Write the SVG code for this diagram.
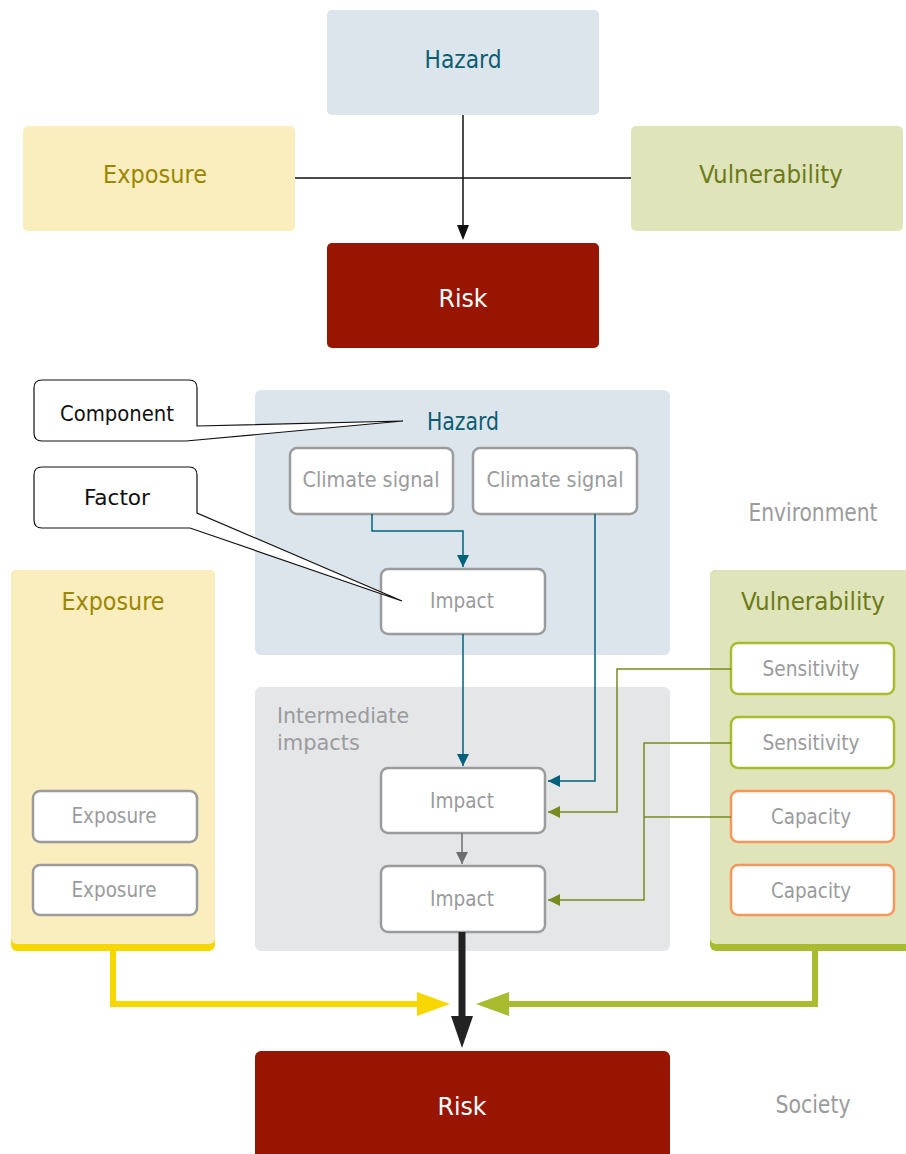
<svg xmlns="http://www.w3.org/2000/svg" width="906" height="1154" viewBox="0 0 906 1154">
  <defs>
    <style>
      text { font-family: "DejaVu Sans Condensed", "DejaVu Sans", "Liberation Sans", sans-serif; font-stretch: condensed; }
      .big { font-size: 25px; }
      .two { font-size: 22px; }
      .small { font-size: 21px; }
      .mid { text-anchor: middle; }
      .haz { fill: #0b5d72; }
      .exp { fill: #9a8700; }
      .vul { fill: #6c7b17; }
      .wht { fill: #ffffff; }
      .gry { fill: #9a9b9d; }
      .blk { fill: #111111; }
      .box { fill: #ffffff; stroke-width: 2.5; }
      .g { stroke: #9a9b9d; }
      .s { stroke: #a9bc30; }
      .c { stroke: #f7965c; }
      .teal { fill: none; stroke: #00627a; stroke-width: 1.5; }
      .olive { fill: none; stroke: #768a1f; stroke-width: 1.5; }
    </style>
    <marker id="ahTeal" viewBox="0 0 12 12" refX="12" refY="6" markerWidth="12" markerHeight="12" markerUnits="userSpaceOnUse" orient="auto">
      <path d="M0,0 L12,6 L0,12 Z" fill="#00627a"/>
    </marker>
    <marker id="ahOlive" viewBox="0 0 12 12" refX="12" refY="6" markerWidth="12" markerHeight="12" markerUnits="userSpaceOnUse" orient="auto">
      <path d="M0,0 L12,6 L0,12 Z" fill="#768a1f"/>
    </marker>
    <marker id="ahGrey" viewBox="0 0 12 12" refX="12" refY="6" markerWidth="12" markerHeight="12" markerUnits="userSpaceOnUse" orient="auto">
      <path d="M0,0 L12,6 L0,12 Z" fill="#6d6e70"/>
    </marker>
  </defs>

  <!-- Upper schematic -->
  <g id="top-hazard">
    <rect x="327" y="10" width="272" height="105" rx="5" fill="#dde5ec"/>
    <text class="big mid haz" x="463" y="68" textLength="77" lengthAdjust="spacingAndGlyphs">Hazard</text>
  </g>
  <g id="top-exposure">
    <rect x="23" y="126" width="272" height="105" rx="5" fill="#faedbe"/>
    <text class="big mid exp" x="155" y="183" textLength="104" lengthAdjust="spacingAndGlyphs">Exposure</text>
  </g>
  <g id="top-vulnerability">
    <rect x="631" y="126" width="272" height="105" rx="5" fill="#e0e4bb"/>
    <text class="big mid vul" x="771" y="183" textLength="144" lengthAdjust="spacingAndGlyphs">Vulnerability</text>
  </g>
  <g id="top-risk">
    <rect x="327" y="243" width="272" height="105" rx="5" fill="#981502"/>
    <text class="big mid wht" x="463" y="307" textLength="49" lengthAdjust="spacingAndGlyphs">Risk</text>
  </g>

  <g id="top-connectors">
    <line x1="295" y1="178" x2="631" y2="178" stroke="#111" stroke-width="1.5"/>
    <line x1="463" y1="115" x2="463" y2="226" stroke="#111" stroke-width="1.5"/>
    <path d="M457,225 L469,225 L463,240 Z" fill="#111"/>
  </g>

  <!-- Lower schematic: panels -->
  <g id="panel-hazard">
    <rect x="255" y="390" width="415" height="265" rx="6" fill="#dde5ec"/>
    <text class="big mid haz" x="463" y="430" textLength="72" lengthAdjust="spacingAndGlyphs">Hazard</text>
  </g>
  <g id="panel-intermediate">
    <rect x="255" y="687" width="415" height="264" rx="6" fill="#e5e6e8"/>
    <text class="two gry" x="277" y="723" textLength="132" lengthAdjust="spacingAndGlyphs">Intermediate</text>
    <text class="two gry" x="277" y="750" textLength="83" lengthAdjust="spacingAndGlyphs">impacts</text>
  </g>
  <g id="panel-exposure">
    <rect x="11" y="570" width="204" height="381" rx="6" fill="#f7d700"/>
    <rect x="11" y="570" width="204" height="374" rx="6" fill="#faedbe"/>
    <text class="big mid exp" x="113" y="610" textLength="103" lengthAdjust="spacingAndGlyphs">Exposure</text>
  </g>
  <g id="panel-vulnerability">
    <rect x="710" y="570" width="210" height="381" rx="6" fill="#a9bc30"/>
    <rect x="710" y="570" width="210" height="374" rx="6" fill="#e0e4bb"/>
    <text class="big mid vul" x="813" y="610" textLength="144" lengthAdjust="spacingAndGlyphs">Vulnerability</text>
  </g>

  <!-- Factor boxes -->
  <g id="climate-signal-1">
    <rect class="box g" x="290" y="448" width="163" height="66" rx="7"/>
    <text class="small mid gry" x="371" y="487" textLength="137" lengthAdjust="spacingAndGlyphs">Climate signal</text>
  </g>
  <g id="climate-signal-2">
    <rect class="box g" x="473" y="448" width="164" height="66" rx="7"/>
    <text class="small mid gry" x="555" y="487" textLength="137" lengthAdjust="spacingAndGlyphs">Climate signal</text>
  </g>
  <g id="impact-1">
    <rect class="box g" x="381" y="569" width="164" height="65" rx="7"/>
    <text class="small mid gry" x="462" y="608" textLength="64" lengthAdjust="spacingAndGlyphs">Impact</text>
  </g>
  <g id="impact-2">
    <rect class="box g" x="381" y="768" width="164" height="65" rx="7"/>
    <text class="small mid gry" x="462" y="808" textLength="64" lengthAdjust="spacingAndGlyphs">Impact</text>
  </g>
  <g id="impact-3">
    <rect class="box g" x="381" y="866" width="164" height="66" rx="7"/>
    <text class="small mid gry" x="462" y="906" textLength="64" lengthAdjust="spacingAndGlyphs">Impact</text>
  </g>
  <g id="exposure-1">
    <rect class="box g" x="33" y="791" width="164" height="51" rx="7"/>
    <text class="small mid gry" x="114" y="823" textLength="85" lengthAdjust="spacingAndGlyphs">Exposure</text>
  </g>
  <g id="exposure-2">
    <rect class="box g" x="33" y="865" width="164" height="50" rx="7"/>
    <text class="small mid gry" x="114" y="897" textLength="85" lengthAdjust="spacingAndGlyphs">Exposure</text>
  </g>
  <g id="sensitivity-1">
    <rect class="box s" x="731" y="643" width="163" height="51" rx="7"/>
    <text class="small mid gry" x="811" y="676" textLength="97" lengthAdjust="spacingAndGlyphs">Sensitivity</text>
  </g>
  <g id="sensitivity-2">
    <rect class="box s" x="731" y="717" width="163" height="51" rx="7"/>
    <text class="small mid gry" x="811" y="750" textLength="97" lengthAdjust="spacingAndGlyphs">Sensitivity</text>
  </g>
  <g id="capacity-1">
    <rect class="box c" x="731" y="791" width="163" height="51" rx="7"/>
    <text class="small mid gry" x="811" y="824" textLength="80" lengthAdjust="spacingAndGlyphs">Capacity</text>
  </g>
  <g id="capacity-2">
    <rect class="box c" x="731" y="865" width="163" height="50" rx="7"/>
    <text class="small mid gry" x="811" y="898" textLength="80" lengthAdjust="spacingAndGlyphs">Capacity</text>
  </g>

  <g id="risk">
    <rect x="255" y="1051" width="415" height="115" rx="6" fill="#981502"/>
    <text class="big mid wht" x="462" y="1115" textLength="49" lengthAdjust="spacingAndGlyphs">Risk</text>
  </g>

  <g id="labels">
    <text class="big mid gry" x="813" y="521" textLength="129" lengthAdjust="spacingAndGlyphs">Environment</text>
    <text class="big mid gry" x="813" y="1113" textLength="75" lengthAdjust="spacingAndGlyphs">Society</text>
  </g>

  <!-- Callouts -->
  <g id="callout-component">
    <path d="M42,380 H189 Q197,380 197,388 V426 L403,421 L186,441 H42 Q34,441 34,433 V388 Q34,380 42,380 Z" fill="#ffffff" stroke="#111" stroke-width="1.2"/>
    <text class="small mid blk" x="117" y="421" textLength="114" lengthAdjust="spacingAndGlyphs">Component</text>
  </g>
  <g id="callout-factor">
    <path d="M42,467 H189 Q197,467 197,475 V513 L402,601 L190,528 H42 Q34,528 34,520 V475 Q34,467 42,467 Z" fill="#ffffff" stroke="#111" stroke-width="1.2"/>
    <text class="small mid blk" x="117" y="505" textLength="66" lengthAdjust="spacingAndGlyphs">Factor</text>
  </g>

  <!-- Connectors -->
  <g id="connectors">
    <path class="teal" d="M372,514 V531 H463 V567" marker-end="url(#ahTeal)"/>
    <path class="teal" d="M463,634 V766" marker-end="url(#ahTeal)"/>
    <path class="teal" d="M595,514 V781 H548" marker-end="url(#ahTeal)"/>
    <path class="olive" d="M731,669 H617 V812 H548" marker-end="url(#ahOlive)"/>
    <path class="olive" d="M731,743 H644 V900 H548" marker-end="url(#ahOlive)"/>
    <path class="olive" d="M731,817 H644"/>
    <path d="M462,833 V864" fill="none" stroke="#6d6e70" stroke-width="1.5" marker-end="url(#ahGrey)"/>
    <path d="M113,951 V1004 H420" fill="none" stroke="#f7d700" stroke-width="6"/>
    <path d="M417,992 L450,1004 L417,1016 Z" fill="#f7d700"/>
    <path d="M815,951 V1004 H506" fill="none" stroke="#a9bc30" stroke-width="6"/>
    <path d="M509,992 L476,1004 L509,1016 Z" fill="#a9bc30"/>
    <path d="M462,932 V1018" fill="none" stroke="#222" stroke-width="7"/>
    <path d="M451,1016 L473,1016 L462,1048 Z" fill="#222"/>
  </g>
</svg>
